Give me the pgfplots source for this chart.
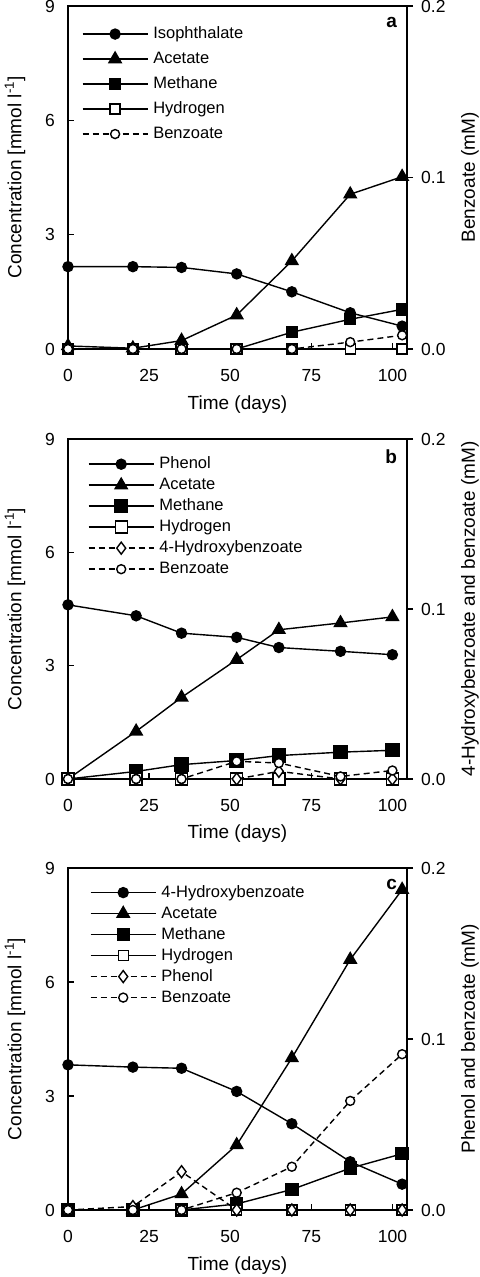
\documentclass[border=0pt]{standalone}
\usepackage{pgfplots}
\pgfplotsset{compat=1.18}
\usepackage{pgfplotstable}
\usepackage{fontspec}
\setmainfont{Liberation Sans}

\pgfplotstableread{
day iso ace met hyd
0   2.16 0.08 0    0
20  2.16 0.02 0    0
35  2.14 0.22 0    0
52  1.97 0.89 0    0
69  1.50 2.31 0.44 0
87  0.95 4.06 0.78 0
103 0.60 4.52 1.04 0
}\dataA
\pgfplotstableread{
day ben
0   0
20  0
35  0
52  0
69  0
87  0.004
103 0.008
}\dataAr
\pgfplotstableread{
day phe ace met hyd
0   4.61 0    0    0
21  4.32 1.26 0.20 0
35  3.86 2.16 0.38 0
52  3.75 3.16 0.49 0
65  3.48 3.95 0.62 0
84  3.38 4.13 0.71 0
100 3.29 4.29 0.76 0
}\dataB
\pgfplotstableread{
day hb ben
0   0      0
21  0      0
35  0      0
52  0      0.0104
65  0.0045 0.0094
84  0      0.0015
100 0      0.0050
}\dataBr
\pgfplotstableread{
day hb ace met hyd
0   3.82 0    0    0
20  3.76 0    0    0
35  3.73 0.42 0    0
52  3.12 1.71 0.16 0
69  2.27 4.00 0.54 0
87  1.27 6.59 1.10 0
103 0.68 8.43 1.48 0
}\dataC
\pgfplotstableread{
day phe ben
0   0      0
20  0.002  0
35  0.0224 0
52  0      0.0101
69  0      0.0253
87  0      0.0638
103 0      0.0911
}\dataCr

\tikzset{panel/.style={font=\bfseries\fontsize{19bp}{22bp}\selectfont, anchor=north east, inner sep=0pt}}
\pgfplotsset{
  common/.style={
    scale only axis, width=339bp, xmin=0, xmax=104.5,
    axis line style={line width=1.7bp},
    major tick length=6bp,
    every tick/.style={black, line width=1.3bp},
    /pgf/number format/assume math mode=true,
    tick label style={font=\fontsize{17.5bp}{20bp}\selectfont, inner sep=0pt},
  },
  leftax/.style={common, ymin=0, ymax=9, ytick={0,3,6,9}, xtick={0,25,50,75,100},
    tick align=inside, xtick pos=left, ytick pos=left,
    xticklabel style={yshift=-20bp},
    yticklabel style={xshift=-13bp},
    xlabel={Time (days)},
    ylabel={Concentration [mmol l\textsuperscript{-1}]},
    every axis x label/.style={at={(axis description cs:0.5,-0.162)}, anchor=center, font=\fontsize{19bp}{22bp}\selectfont},
    every axis y label/.style={at={(axis description cs:-0.156,0.5)}, rotate=90, anchor=center, font=\fontsize{19bp}{22bp}\selectfont},
    legend cell align=left,
    legend image code/.code={\draw[mark repeat=2,mark phase=2] plot coordinates {(0bp,0bp) (32.5bp,0bp) (65bp,0bp)}; \path (70bp,0bp);},
  },
  rightax/.style={common, ymin=0, ymax=0.2, ytick={0,0.1,0.2},
    axis x line=none, axis y line*=right, tick align=outside,
    yticklabel style={xshift=8bp, /pgf/number format/.cd, fixed, fixed zerofill, precision=1},
    every axis y label/.style={at={(axis description cs:1.186,0.5)}, rotate=90, anchor=center, font=\fontsize{19bp}{22bp}\selectfont},
  },
  sl/.style={black, line width=1.4bp, solid},
  dl/.style={black, line width=1.4bp, dash pattern=on 6bp off 4bp},
  mfc/.style={sl, mark=*, mark size=5bp, mark options={solid, fill=black}},
  mtr/.style={sl, mark=triangle*, mark size=7bp, mark options={solid, fill=black}},
  msq/.style={sl, mark=square*, mark size=5.5bp, mark options={solid, fill=black}},
  mosq/.style={sl, mark=square*, mark size=5bp, mark options={solid, fill=white}},
  moc/.style={dl, mark=*, mark size=4.5bp, mark options={solid, fill=white}},
  mdi/.style={dl, mark=diamond*, mark size=6bp, mark options={solid, fill=white}},
  lgs/.style={legend style={draw=none, fill=none, anchor=north west, inner sep=0pt, outer sep=0pt,
    font=\fontsize{16.5bp}{18bp}\selectfont, row sep=#1, column sep=0bp,
    nodes={inner sep=0pt, text height=12bp, text depth=3bp}}},
}

\begin{document}
\begin{tikzpicture}
\useasboundingbox (0,0) rectangle (480bp,1277bp);

% ---------- panel a ----------
\begin{axis}[leftax, at={(68bp,928bp)}, anchor=south west, height=343bp,
  lgs=10bp, legend style={at={(axis description cs:0.041,0.94)}}]
\addplot[mfc] table[x=day,y=iso] {\dataA};
\addlegendentry{Isophthalate}
\addplot[mtr] table[x=day,y=ace] {\dataA};
\addlegendentry{Acetate}
\addplot[msq] table[x=day,y=met] {\dataA};
\addlegendentry{Methane}
\addplot[mosq] table[x=day,y=hyd] {\dataA};
\addlegendentry{Hydrogen}
\addlegendimage{moc}
\addlegendentry{Benzoate}
\node[panel] at (axis description cs:0.971,0.968) {a};
\end{axis}
\begin{axis}[rightax, at={(68bp,928bp)}, anchor=south west, height=343bp, ylabel={Benzoate (mM)}]
\addplot[moc] table[x=day,y=ben] {\dataAr};
\end{axis}

% ---------- panel b ----------
\begin{axis}[leftax, at={(68bp,498bp)}, anchor=south west, height=340bp,
  lgs=6bp, legend style={at={(axis description cs:0.059,0.948)}}]
\addplot[mfc] table[x=day,y=phe] {\dataB};
\addlegendentry{Phenol}
\addplot[mtr] table[x=day,y=ace] {\dataB};
\addlegendentry{Acetate}
\addplot[msq, mark size=6.5bp] table[x=day,y=met] {\dataB};
\addlegendentry{Methane}
\addplot[mosq, mark size=6bp] table[x=day,y=hyd] {\dataB};
\addlegendentry{Hydrogen}
\addlegendimage{mdi}
\addlegendentry{4-Hydroxybenzoate}
\addlegendimage{moc}
\addlegendentry{Benzoate}
\node[panel] at (axis description cs:0.971,0.968) {b};
\end{axis}
\begin{axis}[rightax, at={(68bp,498bp)}, anchor=south west, height=340bp, ylabel={4-Hydroxybenzoate and benzoate (mM)}]
\addplot[mdi] table[x=day,y=hb] {\dataBr};
\addplot[moc] table[x=day,y=ben] {\dataBr};
\end{axis}

% ---------- panel c ----------
\begin{axis}[leftax, at={(68bp,67bp)}, anchor=south west, height=342bp,
  lgs=6bp, legend style={at={(axis description cs:0.065,0.95)}}]
\addplot[mfc] table[x=day,y=hb] {\dataC};
\addlegendentry{4-Hydroxybenzoate}
\addplot[mtr] table[x=day,y=ace] {\dataC};
\addlegendentry{Acetate}
\addplot[msq, mark size=6bp] table[x=day,y=met] {\dataC};
\addlegendentry{Methane}
\addplot[mosq] table[x=day,y=hyd] {\dataC};
\addlegendentry{Hydrogen}
\addlegendimage{mdi}
\addlegendentry{Phenol}
\addlegendimage{moc}
\addlegendentry{Benzoate}
\node[panel] at (axis description cs:0.971,0.968) {c};
\end{axis}
\begin{axis}[rightax, at={(68bp,67bp)}, anchor=south west, height=342bp, ylabel={Phenol and benzoate (mM)}]
\addplot[mdi] table[x=day,y=phe] {\dataCr};
\addplot[moc] table[x=day,y=ben] {\dataCr};
\end{axis}
\end{tikzpicture}
\end{document}
